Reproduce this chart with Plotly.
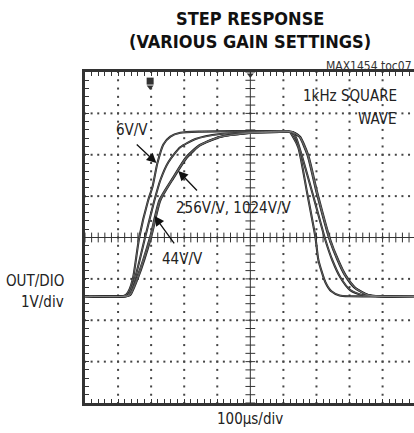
import plotly.graph_objects as go

# time in microseconds, output in volts (centre of screen = 0 V)
t_6 = [0, 115, 125, 135, 146, 164, 191, 204, 219, 237, 258, 288, 350, 450, 550, 618, 628, 645, 672, 697, 706, 727, 745, 770, 800, 1000]
v_6 = [-1.42, -1.42, -1.38, -1.25, -0.95, 0.0, 0.9, 1.22, 1.8, 2.25, 2.44, 2.53, 2.56, 2.57, 2.57, 2.56, 2.45, 2.18, 1.07, 0.0, -0.55, -1.08, -1.3, -1.4, -1.42, -1.42]

t_44 = [0, 120, 131, 152, 182, 210, 228, 252, 288, 334, 409, 530, 627, 639, 688, 727, 748, 772, 802, 839, 878, 1000]
v_44 = [-1.42, -1.42, -1.39, -0.96, 0.01, 0.9, 1.39, 1.82, 2.18, 2.38, 2.5, 2.55, 2.55, 2.4, 1.07, -0.06, -0.55, -0.96, -1.27, -1.39, -1.42, -1.42]

t_256 = [0, 124, 135, 158, 197, 225, 265, 306, 346, 406, 488, 588, 625, 634, 649, 673, 701, 740, 764, 786, 816, 855, 891, 1000]
v_256 = [-1.42, -1.42, -1.39, -0.96, 0.01, 0.9, 1.43, 1.94, 2.23, 2.43, 2.52, 2.55, 2.55, 2.52, 2.43, 1.99, 1.07, -0.06, -0.55, -0.91, -1.22, -1.39, -1.42, -1.42]

t_1024 = [0, 126, 137, 161, 200, 228, 267, 309, 349, 409, 491, 591, 627, 636, 651, 675, 703, 742, 766, 788, 818, 857, 893, 1000]
v_1024 = [-1.42, -1.42, -1.39, -0.96, 0.01, 0.9, 1.43, 1.94, 2.23, 2.43, 2.52, 2.55, 2.55, 2.52, 2.43, 1.99, 1.07, -0.06, -0.55, -0.91, -1.22, -1.39, -1.42, -1.42]

gain_labels = ["6V/V", "256V/V, 1024V/V", "44V/V"]
title_lines = ["STEP RESPONSE", "(VARIOUS GAIN SETTINGS)"]

X_MAX = 995
GRID_X = [100, 200, 300, 400, 600, 700, 800, 900]
GRID_Y = [-3, -2, -1, 1, 2, 3]
FONT = "DejaVu Sans Condensed, Liberation Sans Narrow, Arial Narrow, sans-serif"

fig = go.Figure()

# dotted graticule
dots_x, dots_y = [], []
for gx in GRID_X:
    for k in range(41):
        dots_x.append(gx)
        dots_y.append(-4 + k * 0.2)
for gy in GRID_Y:
    for k in range(51):
        dots_x.append(k * 20)
        dots_y.append(gy)
fig.add_trace(go.Scatter(x=dots_x, y=dots_y, mode="markers",
                         marker=dict(symbol="square", size=2, color="#444"),
                         hoverinfo="skip", showlegend=False))

# centre cross with minor ticks
fig.add_trace(go.Scatter(x=[500, 500], y=[-4, 4], mode="lines",
                         line=dict(color="#333", width=1), hoverinfo="skip", showlegend=False))
fig.add_trace(go.Scatter(x=[0, 1000], y=[0, 0], mode="lines",
                         line=dict(color="#333", width=1), hoverinfo="skip", showlegend=False))
fig.add_trace(go.Scatter(x=[k * 20 for k in range(51)], y=[0] * 51, mode="markers",
                         marker=dict(symbol="line-ns", size=7, line=dict(width=1, color="#333")),
                         hoverinfo="skip", showlegend=False))
fig.add_trace(go.Scatter(x=[500] * 41, y=[-4 + k * 0.2 for k in range(41)], mode="markers",
                         marker=dict(symbol="line-ew", size=7, line=dict(width=1, color="#333")),
                         hoverinfo="skip", showlegend=False))

# waveforms (noisy scope traces: dark outline with lighter core)
for tt, vv in [(t_6, v_6), (t_44, v_44), (t_256, v_256), (t_1024, v_1024)]:
    fig.add_trace(go.Scatter(x=tt, y=vv, mode="lines",
                             line=dict(color="#222", width=2.1, shape="spline", smoothing=0.6),
                             hoverinfo="skip", showlegend=False))
for tt, vv in [(t_6, v_6), (t_44, v_44), (t_256, v_256), (t_1024, v_1024)]:
    fig.add_trace(go.Scatter(x=tt, y=vv, mode="lines",
                             line=dict(color="#8a8a8a", width=0.6, shape="spline", smoothing=0.6),
                             hoverinfo="skip", showlegend=False))

# trigger marker and position marker
fig.add_trace(go.Scatter(x=[197], y=[3.78], mode="markers",
                         marker=dict(symbol="square", size=7, color="#333"),
                         hoverinfo="skip", showlegend=False))
fig.add_trace(go.Scatter(x=[197], y=[3.64], mode="markers",
                         marker=dict(symbol="triangle-down", size=6, color="#333"),
                         hoverinfo="skip", showlegend=False))
fig.add_trace(go.Scatter(x=[500], y=[3.93], mode="markers",
                         marker=dict(symbol="triangle-down", size=6, color="#333"),
                         hoverinfo="skip", showlegend=False, cliponaxis=False))

ann = []
# titles
ann.append(dict(text="<b>%s</b>" % title_lines[0], xref="paper", yref="paper", x=0.502, y=1.163,
                showarrow=False, font=dict(family=FONT, size=18, color="#111"), xanchor="center", yanchor="middle"))
ann.append(dict(text="<b>%s</b>" % title_lines[1], xref="paper", yref="paper", x=0.502, y=1.092,
                showarrow=False, font=dict(family=FONT, size=18, color="#111"), xanchor="center", yanchor="middle"))
ann.append(dict(text="MAX1454 toc07", xref="paper", yref="paper", x=1.0, y=1.018,
                showarrow=False, font=dict(family=FONT, size=12, color="#333"), xanchor="right", yanchor="middle"))
# axis captions
ann.append(dict(text="OUT/DIO", xref="paper", yref="paper", x=-0.057, y=0.369,
                showarrow=False, font=dict(family=FONT, size=15, color="#222"), xanchor="right", yanchor="middle"))
ann.append(dict(text="1V/div", xref="paper", yref="paper", x=-0.057, y=0.305,
                showarrow=False, font=dict(family=FONT, size=15, color="#222"), xanchor="right", yanchor="middle"))
ann.append(dict(text="100µs/div", xref="paper", yref="paper", x=0.502, y=-0.047,
                showarrow=False, font=dict(family=FONT, size=15, color="#222"), xanchor="center", yanchor="middle"))
# in-plot labels
ann.append(dict(text="1kHz SQUARE", x=951, y=3.42, xref="x", yref="y", showarrow=False,
                font=dict(family=FONT, size=15, color="#222"), xanchor="right", yanchor="middle"))
ann.append(dict(text="WAVE", x=951, y=2.86, xref="x", yref="y", showarrow=False,
                font=dict(family=FONT, size=15, color="#222"), xanchor="right", yanchor="middle"))
ann.append(dict(text=gain_labels[0], x=143, y=2.6, xref="x", yref="y", showarrow=False,
                font=dict(family=FONT, size=15, color="#222"), xanchor="center", yanchor="middle"))
ann.append(dict(text=gain_labels[1], x=450, y=0.71, xref="x", yref="y", showarrow=False,
                font=dict(family=FONT, size=15, color="#222"), xanchor="center", yanchor="middle"))
ann.append(dict(text=gain_labels[2], x=295, y=-0.52, xref="x", yref="y", showarrow=False,
                font=dict(family=FONT, size=15, color="#222"), xanchor="center", yanchor="middle"))
# arrows
for (hx, hy, tx, ty) in [(216, 1.80, 152, 2.28), (282, 1.61, 343, 1.10), (210, 0.52, 273, -0.18)]:
    ann.append(dict(text="", x=hx, y=hy, ax=tx, ay=ty, xref="x", yref="y", axref="x", ayref="y",
                    showarrow=True, arrowhead=2, arrowsize=1.5, arrowwidth=1.3, arrowcolor="#111"))

fig.update_layout(
    width=414, height=433,
    margin=dict(l=85, r=0, t=72, b=30),
    paper_bgcolor="white", plot_bgcolor="white",
    annotations=ann,
    xaxis=dict(range=[0, X_MAX], showgrid=False, zeroline=False, showticklabels=False,
               showline=True, linewidth=2.5, linecolor="#333", mirror="ticks",
               ticks="inside", tick0=0, dtick=20, ticklen=4, tickwidth=1, tickcolor="#333"),
    yaxis=dict(range=[-4, 4], showgrid=False, zeroline=False, showticklabels=False,
               showline=True, linewidth=2.5, linecolor="#333", mirror=False,
               ticks="inside", tick0=0, dtick=0.2, ticklen=4, tickwidth=1, tickcolor="#333"),
)

fig.write_html("out.html", config={"displayModeBar": False},
               post_script="document.body.style.margin='0';document.body.style.overflow='hidden';")
